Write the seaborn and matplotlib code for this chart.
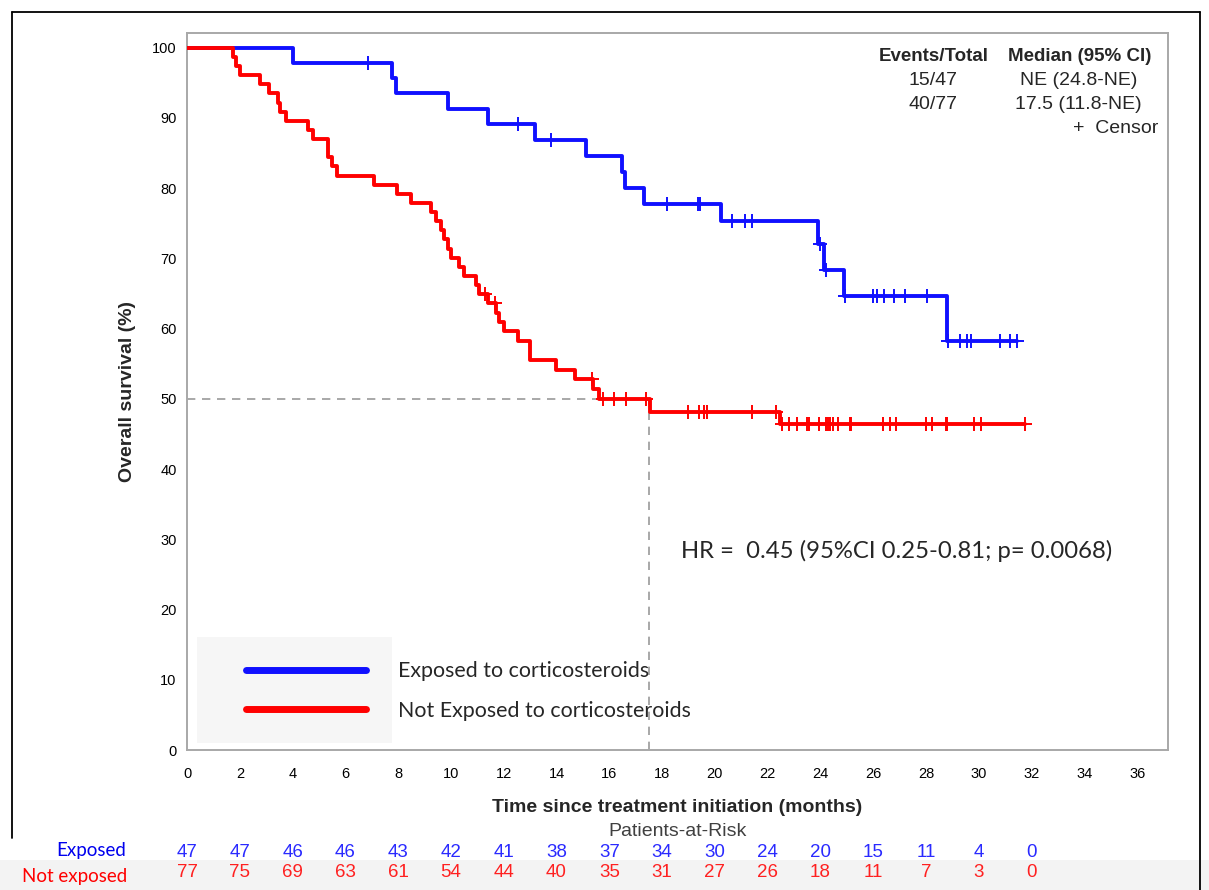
import matplotlib.pyplot as plt
import numpy as np
import pandas as pd
import seaborn as sns
from matplotlib.lines import Line2D
from matplotlib.patches import Rectangle
from matplotlib.transforms import blended_transform_factory

# Kaplan-Meier steps (months, overall survival %)
exposed_times = [0, 4.0, 7.75, 7.9, 9.9, 11.4, 13.2, 15.1, 16.5, 16.6, 17.3,
                 20.25, 23.9, 24.15, 24.9, 28.8]
exposed_surv = [100, 97.9, 95.7, 93.5, 91.3, 89.1, 86.9, 84.6, 82.3, 80.0, 77.7,
                75.3, 72.0, 68.4, 64.7, 58.3]
exposed_censor = [6.85, 12.55, 13.8, 18.2, 19.35, 19.45, 20.65, 21.15, 21.4,
                  24.0, 24.2, 24.92, 26.0, 26.15, 26.4, 26.8, 27.2, 28.05,
                  28.85, 29.3, 29.55, 29.7, 30.8, 31.2, 31.45]

not_exposed_times = [0, 1.73, 1.85, 2.0, 2.77, 3.1, 3.45, 3.53, 3.75, 4.6,
                     4.77, 5.33, 5.36, 5.5, 5.67, 7.08, 7.97, 8.48, 9.24, 9.42,
                     9.62, 9.75, 9.9, 10.0, 10.3, 10.5, 10.94, 11.05, 11.4, 11.72,
                     11.82, 12.0, 12.53, 13.0, 13.97, 14.7, 15.4, 15.6, 17.56, 22.45]
not_exposed_surv = [100, 98.7, 97.4, 96.1, 94.8, 93.5, 92.2, 90.9, 89.6, 88.3,
                    87.0, 85.7, 84.4, 83.1, 81.8, 80.5, 79.2, 77.9, 76.6, 75.3,
                    74.0, 72.7, 71.4, 70.1, 68.8, 67.5, 66.2, 64.9, 63.6, 62.3,
                    61.0, 59.6, 58.2, 55.5, 54.1, 52.8, 51.4, 50.0, 48.2, 46.4]
not_exposed_censor = [11.3, 11.68, 15.35, 15.75, 16.17, 16.65, 17.4, 19.0,
                      19.4, 19.57, 19.72, 21.4, 22.33, 22.55, 22.8, 23.1, 23.5,
                      23.55, 23.96, 24.2, 24.27, 24.37, 24.48, 24.65, 25.13,
                      25.17, 26.38, 26.65, 26.87, 28.0, 28.24, 28.77, 28.8,
                      29.8, 30.1, 31.75]

median_not_exposed = 17.5

risk_times = list(range(0, 33, 2))
exposed_risk = [47, 47, 46, 46, 43, 42, 41, 38, 37, 34, 30, 24, 20, 15, 11, 4, 0]
not_exposed_risk = [77, 75, 69, 63, 61, 54, 44, 40, 35, 31, 27, 26, 18, 11, 7, 3, 0]

group_labels = ["Exposed to corticosteroids", "Not Exposed to corticosteroids"]
risk_labels = ["Exposed", "Not exposed"]
summary_header = ["Events/Total", "Median (95% CI)"]
summary_rows = [("15/47", "NE (24.8-NE)"), ("40/77", "17.5 (11.8-NE)")]
hr_text = "HR =  0.45 (95%CI 0.25-0.81; p= 0.0068)"

BLUE = "#1010ff"
RED = "#ff0000"
GRAY = "#a8a8a8"


def km_frame(times, surv, censor):
    # carry the last level out to the last censored patient
    t = list(times) + [max(censor)]
    s = list(surv) + [surv[-1]]
    return pd.DataFrame({"time": t, "surv": s})


def censor_frame(times, surv, censor):
    idx = np.searchsorted(times, censor, side="right") - 1
    return pd.DataFrame({"time": censor, "surv": np.array(surv)[idx]})


sns.set_style("white")
plt.rcParams["font.family"] = ["Liberation Sans", "DejaVu Sans"]

fig = plt.figure(figsize=(12.09, 8.90), dpi=100)
ax = fig.add_axes([0.1547, 0.1573, 0.8114, 0.8056])

# median reference lines
ax.plot([0, median_not_exposed], [50, 50], color="#9a9a9a", lw=1.2,
        ls=(0, (5, 4)), zorder=1)
ax.plot([median_not_exposed, median_not_exposed], [0, 50], color="#9a9a9a",
        lw=1.2, ls=(0, (5, 4)), zorder=1)

curves = [
    (exposed_times, exposed_surv, exposed_censor, BLUE),
    (not_exposed_times, not_exposed_surv, not_exposed_censor, RED),
]
for times, surv, cens, color in curves:
    steps = km_frame(times, surv, cens)
    sns.lineplot(data=steps, x="time", y="surv", drawstyle="steps-post",
                 color=color, lw=2.8, ax=ax, sort=False, estimator=None,
                 zorder=3)
    marks = censor_frame(times, surv, cens)
    sns.scatterplot(data=marks, x="time", y="surv", marker="+", s=110,
                    color=color, linewidth=1.4, ax=ax, zorder=4)

ax.set_xlim(0, 37.17)
ax.set_ylim(0, 102.1)
ax.set_xticks(np.arange(0, 37, 2))
ax.set_yticks(np.arange(0, 101, 10))
for side in ["left", "bottom", "top", "right"]:
    ax.spines[side].set_color(GRAY)
    ax.spines[side].set_linewidth(1.4)
ax.tick_params(direction="out", length=6, width=1.2, color=GRAY,
               labelsize=10.5, pad=1.5, labelcolor="black")
ax.tick_params(axis="x", pad=6)

ax.set_xlabel("Time since treatment initiation (months)", fontsize=14,
              fontweight="bold")
ax.xaxis.set_label_coords(0.5, -0.068)
ax.set_ylabel("Overall survival (%)", fontsize=14, fontweight="bold")
ax.yaxis.set_label_coords(-0.052, 0.5)

# summary table top right
ax.text(0.7615, 0.9677, summary_header[0], transform=ax.transAxes,
        ha="center", va="center", fontsize=13.5, fontweight="bold")
ax.text(0.9098, 0.9677, summary_header[1], transform=ax.transAxes,
        ha="center", va="center", fontsize=13.5, fontweight="bold")
for i, (ev, med) in enumerate(summary_rows):
    y = 0.9342 - i * 0.0335
    ax.text(0.7605, y, ev, transform=ax.transAxes, ha="center", va="center",
            fontsize=14)
    ax.text(0.9085, y, med, transform=ax.transAxes, ha="center", va="center",
            fontsize=14)
ax.text(0.9898, 0.8673, "+  Censor", transform=ax.transAxes, ha="right",
        va="center", fontsize=14)

# hazard ratio
ax.text(0.5036, 0.2775, hr_text, transform=ax.transAxes, ha="left",
        va="center", fontsize=17.2, family=["Lato", "DejaVu Sans"])

# legend
ax.add_patch(Rectangle((0.0102, 0.0098), 0.1988, 0.1478, transform=ax.transAxes,
                       facecolor="#f6f6f6", edgecolor="none", zorder=2))
handles = [Line2D([], [], color=BLUE, lw=5, solid_capstyle="round"),
           Line2D([], [], color=RED, lw=5, solid_capstyle="round")]
ax.legend(handles, group_labels, loc="upper left",
          bbox_to_anchor=(0.060, 0.124), frameon=False, borderpad=0,
          borderaxespad=0, handlelength=5.6, handletextpad=1.5,
          labelspacing=0.92, prop={"family": ["Lato", "DejaVu Sans"],
                                   "size": 15.4})

# patients at risk table
band = Rectangle((0, 0), 1, 0.0337, transform=fig.transFigure,
                 facecolor="#f3f3f3", edgecolor="none", zorder=-1)
fig.patches.append(band)
trans = blended_transform_factory(ax.transData, ax.transAxes)
ax.text(0.5, -0.113, "Patients-at-Risk", transform=ax.transAxes, ha="center",
        va="center", fontsize=14, color="#404040")
for t, a, b in zip(risk_times, exposed_risk, not_exposed_risk):
    ax.text(t, -0.1423, str(a), transform=trans, ha="center", va="center",
            fontsize=13.5, color="#2a2aff", clip_on=False, zorder=5)
    ax.text(t, -0.1705, str(b), transform=trans, ha="center", va="center",
            fontsize=13.5, color="#ff2020", clip_on=False, zorder=5)
fig.text(0.1042, 0.0449, risk_labels[0], ha="right", va="center",
         fontsize=13.5, color="#0000ee", family=["Lato", "DejaVu Sans"])
fig.text(0.105, 0.0157, risk_labels[1], ha="right", va="center",
         fontsize=13.5, color="#ff0000", family=["Lato", "DejaVu Sans"])

# outer frame of the screenshot
frame = dict(transform=fig.transFigure, color="black", lw=1.3)
fig.add_artist(Line2D([0.0099, 0.0099], [0.0584, 0.9865], **frame))
fig.add_artist(Line2D([0.0099, 0.9926], [0.9865, 0.9865], **frame))
fig.add_artist(Line2D([0.9926, 0.9926], [0.0, 0.9865], **frame))

fig.savefig("out.png", dpi=100)
